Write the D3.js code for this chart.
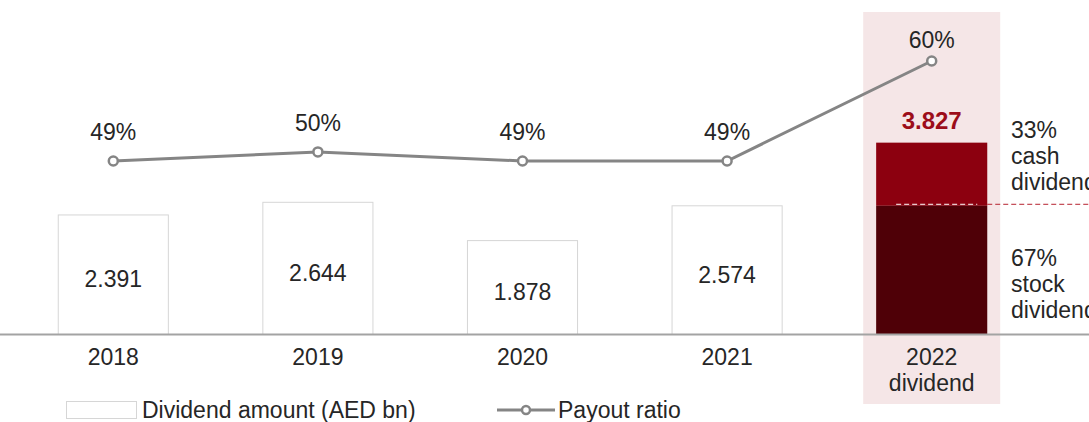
<!DOCTYPE html>
<meta charset="utf-8">
<style>
  body { margin: 0; background: #fff; }
  text { font-family: "Liberation Sans", Arial, sans-serif; fill: #262626; }
</style>
<body>
<script src="https://d3js.org/d3.v7.min.js"></script>
<script>
// data
var years = ["2018", "2019", "2020", "2021", "2022"];
var dividend = [2.391, 2.644, 1.878, 2.574, 3.827];
var payout = [49, 50, 49, 49, 60];
var cashShare = 0.33;   // 2022 split
var stockShare = 0.67;

var width = 1089, height = 422;
var baseY = 334;

var svg = d3.select("body").append("svg")
    .attr("width", width)
    .attr("height", height);

// scales
var x = d3.scaleBand()
    .domain(years)
    .range([11, 1034])
    .paddingInner(0.457)
    .paddingOuter(0.2285);

var y = d3.scaleLinear().domain([0, 1]).range([baseY, baseY - 50]);
var yPct = d3.scaleLinear().domain([49, 60]).range([161, 61]);

var last = years[years.length - 1];

// highlight band behind 2022
svg.append("rect")
    .attr("x", x(last) + x.bandwidth() / 2 - 68.5)
    .attr("y", 12)
    .attr("width", 137)
    .attr("height", 392)
    .attr("fill", "#f5e6e7");

// bars for previous years
var data = years.map(function(d, i) { return {year: d, value: dividend[i], pct: payout[i]}; });
var past = data.slice(0, -1);
var cur = data[data.length - 1];

svg.selectAll(".bar")
    .data(past)
    .enter().append("rect")
    .attr("class", "bar")
    .attr("x", d => x(d.year) + 0.5)
    .attr("y", d => y(d.value) + 0.5)
    .attr("width", x.bandwidth() - 1)
    .attr("height", d => baseY - y(d.value))
    .attr("fill", "#fff")
    .attr("stroke", "#d6d6d6")
    .attr("stroke-width", 1);

svg.selectAll(".barlabel")
    .data(past)
    .enter().append("text")
    .attr("class", "barlabel")
    .attr("x", d => x(d.year) + x.bandwidth() / 2)
    .attr("y", d => (y(d.value) + baseY) / 2 + 5)
    .attr("text-anchor", "middle")
    .attr("dominant-baseline", "central")
    .style("font-size", "23px")
    .text(d => d.value.toFixed(3));

// 2022 stacked bar
var stockVal = cur.value * stockShare;
svg.append("rect")
    .attr("x", x(cur.year))
    .attr("y", y(cur.value))
    .attr("width", x.bandwidth())
    .attr("height", y(stockVal) - y(cur.value))
    .attr("fill", "#8c000f");
svg.append("rect")
    .attr("x", x(cur.year))
    .attr("y", y(stockVal))
    .attr("width", x.bandwidth())
    .attr("height", baseY - y(stockVal))
    .attr("fill", "#4f0007");

// split dashed lines
var splitY = y(stockVal) - 1.5;
svg.append("line")
    .attr("x1", x(cur.year) + 20).attr("x2", x(cur.year) + x.bandwidth() - 10)
    .attr("y1", splitY).attr("y2", splitY)
    .attr("stroke", "#fff").attr("stroke-width", 1)
    .attr("stroke-dasharray", "5,3");
svg.append("line")
    .attr("x1", x(cur.year) + x.bandwidth()).attr("x2", width)
    .attr("y1", splitY).attr("y2", splitY)
    .attr("stroke", "#b5222e").attr("stroke-width", 1)
    .attr("stroke-dasharray", "5,3");

svg.append("text")
    .attr("x", x(cur.year) + x.bandwidth() / 2)
    .attr("y", y(cur.value) - 22)
    .attr("text-anchor", "middle")
    .attr("dominant-baseline", "central")
    .style("font-size", "24px")
    .style("font-weight", "bold")
    .style("fill", "#9c0d1a")
    .text(cur.value.toFixed(3));

// right-side annotations (run off the right edge, as in the original)
var annX = 1011;
[["33%", "cash", "dividend"], ["67%", "stock", "dividend"]].forEach(function(lines, k) {
    var top = k === 0 ? 130 : 258;
    lines.forEach(function(t, j) {
        svg.append("text")
            .attr("x", annX)
            .attr("y", top + j * 26)
            .attr("dominant-baseline", "central")
            .style("font-size", "23px")
            .text(t);
    });
});

// baseline axis
svg.append("line")
    .attr("x1", 0).attr("x2", width)
    .attr("y1", baseY + 0.5).attr("y2", baseY + 0.5)
    .attr("stroke", "#a3a3a3").attr("stroke-width", 2);

// category labels
var ax = svg.append("g").attr("transform", "translate(0," + baseY + ")")
    .call(d3.axisBottom(x).tickSize(0).tickPadding(0));
ax.select(".domain").remove();
ax.selectAll(".tick text").remove();
ax.selectAll(".tick").each(function(d) {
    var t = d3.select(this).append("text")
        .attr("text-anchor", "middle")
        .style("font-size", "23px")
        .style("fill", "#262626");
    t.append("tspan").attr("x", 0).attr("y", 23).attr("dominant-baseline", "central").text(d);
    if (d === last) {
        t.append("tspan").attr("x", 0).attr("y", 49).attr("dominant-baseline", "central").text("dividend");
    }
});

// payout ratio line
var line = d3.line()
    .x(d => x(d.year) + x.bandwidth() / 2)
    .y(d => yPct(d.pct));

svg.append("path")
    .datum(data)
    .attr("d", line)
    .attr("fill", "none")
    .attr("stroke", "#858585")
    .attr("stroke-width", 3);

svg.selectAll(".dot")
    .data(data)
    .enter().append("circle")
    .attr("class", "dot")
    .attr("cx", d => x(d.year) + x.bandwidth() / 2)
    .attr("cy", d => yPct(d.pct))
    .attr("r", 4.5)
    .attr("fill", "#fff")
    .attr("stroke", "#858585")
    .attr("stroke-width", 2.5);

svg.selectAll(".pctlabel")
    .data(data)
    .enter().append("text")
    .attr("class", "pctlabel")
    .attr("x", d => x(d.year) + x.bandwidth() / 2)
    .attr("y", d => Math.max(yPct(d.pct) - 29, 40))
    .attr("text-anchor", "middle")
    .attr("dominant-baseline", "central")
    .style("font-size", "23px")
    .text(d => d.pct + "%");

// legend
var lg = svg.append("g");
lg.append("rect")
    .attr("x", 66.5).attr("y", 401.5).attr("width", 70).attr("height", 17)
    .attr("fill", "#fff").attr("stroke", "#d6d6d6");
lg.append("text")
    .attr("x", 142).attr("y", 410)
    .attr("dominant-baseline", "central")
    .style("font-size", "23px")
    .text("Dividend amount (AED bn)");
lg.append("line")
    .attr("x1", 497).attr("x2", 555).attr("y1", 410).attr("y2", 410)
    .attr("stroke", "#858585").attr("stroke-width", 3);
lg.append("circle")
    .attr("cx", 526).attr("cy", 410).attr("r", 4)
    .attr("fill", "#fff").attr("stroke", "#858585").attr("stroke-width", 2.5);
lg.append("text")
    .attr("x", 558).attr("y", 410)
    .attr("dominant-baseline", "central")
    .style("font-size", "23px")
    .text("Payout ratio");
</script>
</body>
